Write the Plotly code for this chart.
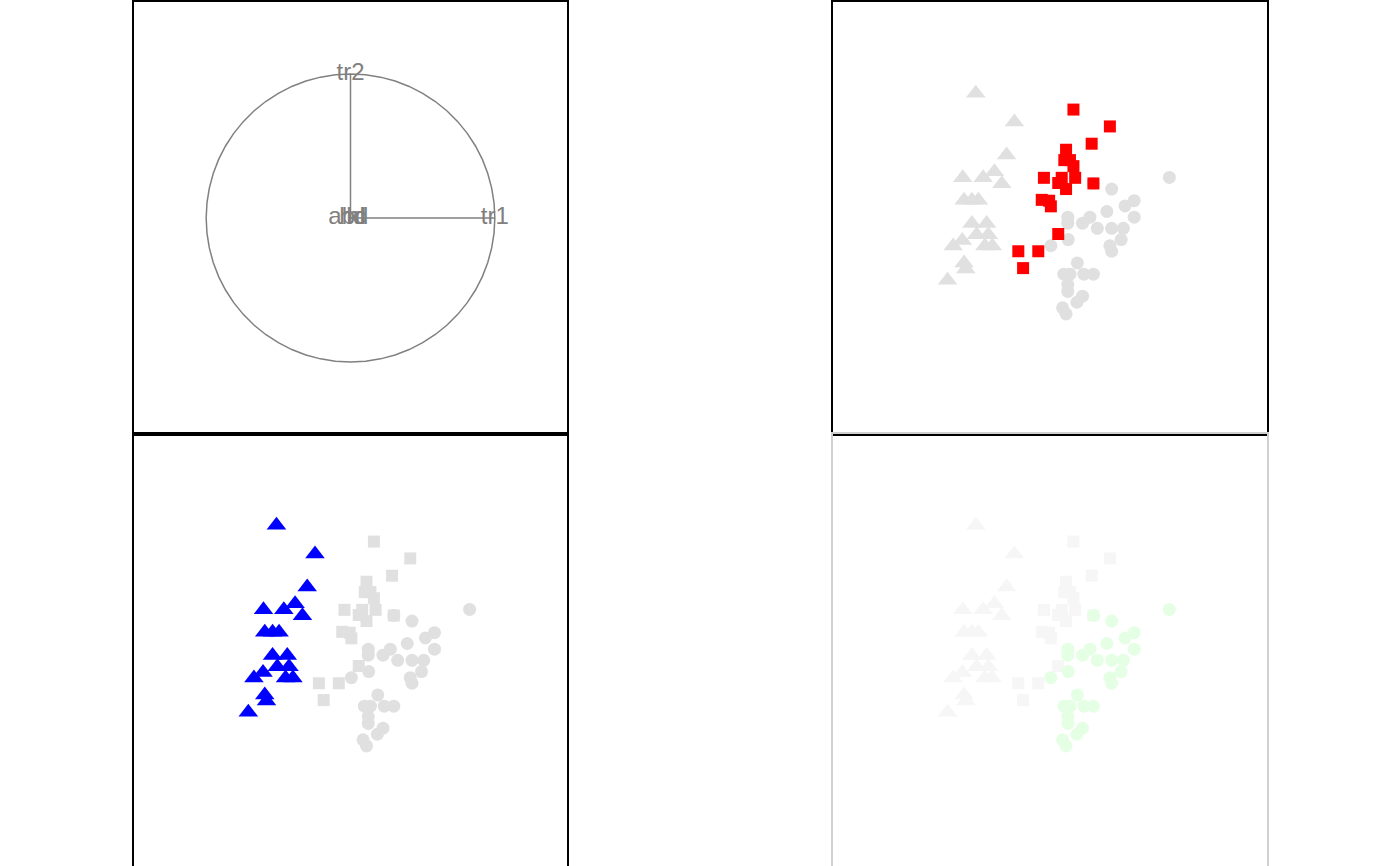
import plotly.graph_objects as go
import numpy as np

# ---- correlation circle (top-left) ----
var_names = ["tr1", "tr2", "abd", "hd", "hl"]
var_x = [1.0, 0.0, -0.015, 0.015, 0.035]
var_y = [0.0, 1.0, 0.0, 0.0, 0.0]

# ---- row scores, three groups ----
sq_x = [0.54, 1.38, 0.96, 0.37, 0.33, 0.46, 0.54, -0.14, 0.27, 0.58, 0.19, 0.37, 1.00,
        -0.19, -0.02, 0.02, 0.19, -0.73, -0.27, -0.62]
sq_y = [2.51, 2.12, 1.72, 1.58, 1.34, 1.34, 1.20, 0.93, 0.93, 0.93, 0.81, 0.67, 0.80,
        0.42, 0.40, 0.27, -0.37, -0.77, -0.77, -1.16]

tri_x = [-1.71, -0.82, -1.00, -2.01, -1.54, -1.28, -1.11, -1.98, -1.80, -1.65, -1.80,
         -1.46, -1.69, -1.42, -2.02, -2.23, -1.50, -1.33, -1.98, -1.94, -2.36]
tri_y = [2.89, 2.22, 1.46, 0.93, 0.93, 1.07, 0.79, 0.41, 0.41, 0.41, -0.13, -0.13,
         -0.39, -0.39, -0.52, -0.65, -0.65, -0.65, -1.04, -1.18, -1.44]

cir_x = [2.75, 1.42, 1.94, 1.73, 1.31, 0.92, 0.41, 1.94, 0.41, 0.75, 1.09, 1.42, 1.69,
         1.64, 0.42, 0.02, 1.38, 1.42, 0.63, 0.32, 0.46, 0.78, 1.00, 0.41, 0.41, 0.75,
         0.62, 0.29, 0.37, 1.00]
cir_y = [0.94, 0.67, 0.40, 0.28, 0.15, 0.02, 0.02, 0.02, -0.12, -0.12, -0.24, -0.24,
         -0.24, -0.50, -0.50, -0.64, -0.64, -0.77, -1.04, -1.30, -1.30, -1.30, -1.30,
         -1.54, -1.70, -1.81, -1.95, -2.08, -2.22, 0.80]

GREY = "#e0e0e0"
FAINT = "#f6f6f6"
LINE = "#808080"

fig = go.Figure()

# circle
t = np.linspace(0, 2 * np.pi, 61)
fig.add_trace(go.Scatter(x=np.cos(t), y=np.sin(t), mode="lines",
                         line=dict(color=LINE, width=1.5), xaxis="x", yaxis="y",
                         hoverinfo="skip"))
for vx, vy in zip(var_x, var_y):
    fig.add_trace(go.Scatter(x=[0, vx], y=[0, vy], mode="lines",
                             line=dict(color=LINE, width=1.5), xaxis="x", yaxis="y",
                             hoverinfo="skip"))
fig.add_trace(go.Scatter(x=var_x, y=var_y, mode="text", text=var_names,
                         textposition="middle center",
                         textfont=dict(family="Liberation Sans, Arial, sans-serif",
                                       size=24, color=LINE),
                         xaxis="x", yaxis="y"))


def add_group(xs, ys, symbol, color, size, ax):
    fig.add_trace(go.Scatter(x=xs, y=ys, mode="markers",
                             marker=dict(symbol=symbol, color=color, size=size,
                                         line=dict(width=0)),
                             xaxis="x" + ax, yaxis="y" + ax))


# top-right: squares highlighted
add_group(cir_x, cir_y, "circle", GREY, 13, "2")
add_group(tri_x, tri_y, "triangle-up", GREY, 17, "2")
add_group(sq_x, sq_y, "square", "#ff0000", 12, "2")

# bottom-left: triangles highlighted
add_group(cir_x, cir_y, "circle", GREY, 13, "3")
add_group(sq_x, sq_y, "square", GREY, 12, "3")
add_group(tri_x, tri_y, "triangle-up", "#0000ff", 17, "3")

# bottom-right: circles highlighted (faint)
add_group(tri_x, tri_y, "triangle-up", FAINT, 17, "4")
add_group(sq_x, sq_y, "square", FAINT, 12, "4")
add_group(cir_x, cir_y, "circle", "#e4ffe4", 13, "4")

left = [134 / 1400, 567 / 1400]
right = [833 / 1400, 1267 / 1400]
top = [0.5, 1.0]
bot = [0.0, 0.5]


def ax(domain, rng, anchor, lc="black"):
    return dict(domain=domain, range=rng, anchor=anchor, showgrid=False,
                zeroline=False, showticklabels=False, ticks="", showline=True,
                mirror=True, linecolor=lc, linewidth=1.5, fixedrange=True)


fig.update_layout(
    width=1400, height=866, margin=dict(l=0, r=0, t=0, b=0),
    paper_bgcolor="white", plot_bgcolor="white", showlegend=False,
    xaxis=ax(left, [-1.5, 1.5], "y"), yaxis=ax(top, [-1.5, 1.5], "x"),
    xaxis2=ax(right, [-5, 5], "y2"), yaxis2=ax(top, [-5, 5], "x2"),
    xaxis3=ax(left, [-5, 5], "y3"), yaxis3=ax(bot, [-5, 5], "x3"),
    xaxis4=ax(right, [-5, 5], "y4", "#d0d0d0"), yaxis4=ax(bot, [-5, 5], "x4", "#d0d0d0"),
)

fig.write_html("out.html", config={"displayModeBar": False},
               post_script="document.body.style.margin='0';document.body.style.overflow='hidden';")
